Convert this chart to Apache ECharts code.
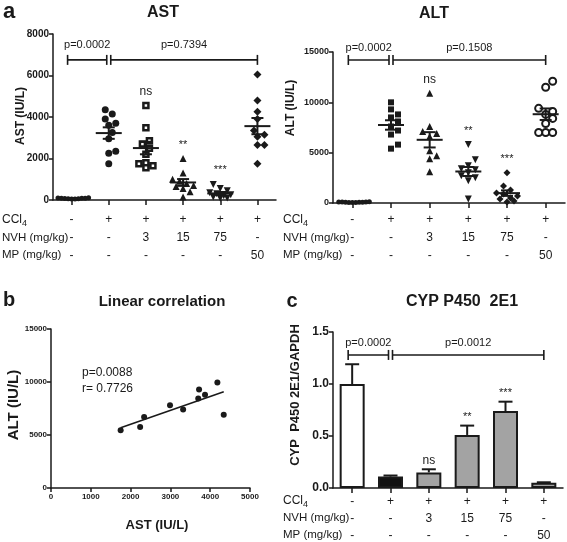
<!DOCTYPE html>
<html><head><meta charset="utf-8">
<script src="https://cdn.jsdelivr.net/npm/echarts@6/dist/echarts.min.js"></script>
<style>html,body{margin:0;padding:0;background:#fff}#c{width:567px;height:542px}</style>
</head><body><div id="c"></div><script>
// ---------------- data ----------------
const groups = ['Control', 'CCl4', 'CCl4+NVH3', 'CCl4+NVH15', 'CCl4+NVH75', 'CCl4+MP50'];
const rowCCl4 = ['-', '+', '+', '+', '+', '+'];
const rowNVH = ['-', '-', '3', '15', '75', '-'];
const rowMP = ['-', '-', '-', '-', '-', '50'];

const astControl = [50, 80, 60, 100, 90, 70, 110, 60, 80, 50];
const astCCl4 = [4350, 4150, 3900, 3700, 3600, 3250, 2950, 2350, 2250, 1750];
const astNVH3 = [4550, 3480, 2850, 2700, 2500, 2200, 1800, 1750, 1650, 1550];
const astNVH15 = [2000, 1300, 1000, 900, 800, 700, 650, 550, 400, 150];
const astNVH75 = [750, 550, 450, 350, 300, 250, 200, 150, 100, 80];
const astMP = [6050, 4800, 4250, 3900, 3350, 3150, 3050, 2650, 2650, 1750];

const altControl = [50, 80, 100, 60, 120, 90, 70, 40, 110, 80];
const altCCl4 = [10000, 9300, 8800, 8500, 8100, 7600, 7200, 6800, 5800, 5400];
const altNVH3 = [10900, 7600, 7100, 6900, 6600, 5200, 4700, 4400, 3100];
const altNVH15 = [5800, 4300, 3700, 3400, 3300, 3000, 2700, 2500, 2200, 400];
const altNVH75 = [3000, 1700, 1300, 1000, 900, 700, 500, 400, 200, 100];
const altMP = [12100, 11500, 9400, 9100, 8800, 8400, 7900, 7000, 7000, 7000];

const corrAST = [1750, 2240, 2340, 2990, 3320, 3700, 3720, 3870, 4180, 4340];
const corrALT = [5450, 5750, 6700, 7800, 7400, 8450, 9300, 8800, 9950, 6900];

const cypMean = [1.00, 0.11, 0.15, 0.51, 0.74, 0.05];
const cypSEM = [0.19, 0.01, 0.03, 0.09, 0.09, 0.005];

const astTests = [[0, 1, 'p=0.0002'], [1, 5, 'p=0.7394']];
const altTests = [[0, 1, 'p=0.0002'], [1, 5, 'p=0.1508']];
const cypTests = [[0, 1, 'p=0.0002'], [1, 5, 'p=0.0012']];
const astMarks = [[2, 'ns'], [3, '**'], [4, '***']];
const altMarks = [[2, 'ns'], [3, '**'], [4, '***']];
const cypMarks = [[2, 'ns'], [3, '**'], [4, '***']];

const corrStats = ['p=0.0088', 'r= 0.7726'];

// ---------------- styling / layout ----------------
const FONT = '"Liberation Sans", Arial, Helvetica, sans-serif';
const INK = '#1a1a1a';
const astSets = [astControl, astCCl4, astNVH3, astNVH15, astNVH75, astMP];
const altSets = [altControl, altCCl4, altNVH3, altNVH15, altNVH75, altMP];
const astShapes = [
  {symbol: 'circle', size: 5}, {symbol: 'circle', size: 7}, {symbol: 'rect', size: 5, hollow: true, bw: 2.5},
  {symbol: 'triangle', size: 7}, {symbol: 'triangle', size: 7, rot: 180}, {symbol: 'diamond', size: 8}];
const altShapes = [
  {symbol: 'circle', size: 5}, {symbol: 'rect', size: 6}, {symbol: 'triangle', size: 7},
  {symbol: 'triangle', size: 7, rot: 180}, {symbol: 'diamond', size: 7}, {symbol: 'circle', size: 7, hollow: true, bw: 2}];
const cypFill = ['#ffffff', '#111111', '#a3a3a3', '#a3a3a3', '#a3a3a3', '#a3a3a3'];

const grids = [
  {left: 53, top: 34, width: 223, height: 166},
  {left: 333, top: 52, width: 232, height: 151},
  {left: 51, top: 329, width: 199, height: 159},
  {left: 333, top: 332, width: 230, height: 156}
];
const yMax = [8000, 15000, 15000, 1.5];

function mean(a) { return a.reduce((s, v) => s + v, 0) / a.length; }
function sem(a) { const m = mean(a); const v = a.reduce((s, x) => s + (x - m) * (x - m), 0) / (a.length - 1); return Math.sqrt(v / a.length); }

// deterministic beeswarm offsets (px), clamped to a max half-width
function swarm(vals, pxPerUnit, d, step, maxOff) {
  const order = vals.map((v, i) => i).sort((a, b) => vals[a] - vals[b]);
  const placed = []; const off = [];
  const cands = [0];
  for (let k = 1; k * step <= maxOff + 1e-9; k++) { cands.push(k * step, -k * step); }
  order.forEach(i => {
    const y = vals[i] * pxPerUnit;
    let best = 0, bestD = -1;
    for (const c of cands) {
      const md = placed.reduce((m, p) => Math.min(m, Math.hypot(p.x - c, p.y - y)), Infinity);
      if (md >= d) { best = c; bestD = Infinity; break; }
      if (md > bestD) { bestD = md; best = c; }
    }
    placed.push({x: best, y}); off[i] = best;
  });
  return off;
}

const lineSt = {color: INK, width: 1.5};
function catAxis(gi, lineH, margin) {
  return {
    gridIndex: gi, type: 'category', data: groups, boundaryGap: true,
    axisLine: {show: true, lineStyle: lineSt},
    axisTick: {show: true, alignWithLabel: true, length: 5, lineStyle: lineSt},
    axisLabel: {interval: 0, color: INK, fontSize: 12, fontFamily: FONT, lineHeight: lineH, margin: margin,
      formatter: (v, i) => [rowCCl4[i], rowNVH[i], rowMP[i]].join('\n')},
    splitLine: {show: false}
  };
}
function valAxis(gi, max, interval, fs, fmt, isX) {
  return {
    gridIndex: gi, type: 'value', min: 0, max: max, interval: interval,
    axisLine: {show: true, onZero: false, lineStyle: lineSt},
    axisTick: {show: true, length: 4, lineStyle: lineSt},
    axisLabel: {color: INK, fontSize: fs, fontWeight: 'bold', fontFamily: FONT, margin: isX ? 5 : 4,
      formatter: fmt || (v => String(v))},
    splitLine: {show: false}
  };
}

function pointSeries(gi, sets, shapes) {
  const pxPer = grids[gi].height / yMax[gi];
  return sets.map((vals, g) => {
    const off = g === 0 ? swarm(vals, pxPer, 3.4, 3.4, 18) : swarm(vals, pxPer, 7, 3.5, 12);
    const sh = shapes[g];
    return {
      type: 'scatter', xAxisIndex: gi, yAxisIndex: gi, z: 2,
      symbol: sh.symbol, symbolSize: sh.size, symbolRotate: sh.rot || 0,
      itemStyle: sh.hollow ? {color: '#fff', borderColor: INK, borderWidth: sh.bw, opacity: 1} : {color: INK, opacity: 1},
      emphasis: {disabled: true},
      data: vals.map((v, i) => ({value: [g, v], symbolOffset: [off[i], 0]}))
    };
  });
}

function meanSemSeries(gi, sets) {
  return {
    type: 'custom', xAxisIndex: gi, yAxisIndex: gi, z: 5,
    data: sets.map((s, i) => [i, mean(s), sem(s)]),
    renderItem: (params, api) => {
      const i = api.value(0), m = api.value(1), e = api.value(2);
      const c = api.coord([i, m]), t = api.coord([i, m + e]), b = api.coord([i, m - e]);
      const st = {stroke: INK, lineWidth: 2};
      return {type: 'group', children: [
        {type: 'line', shape: {x1: c[0] - 13, y1: c[1], x2: c[0] + 13, y2: c[1]}, style: st},
        {type: 'line', shape: {x1: c[0], y1: t[1], x2: c[0], y2: b[1]}, style: st},
        {type: 'line', shape: {x1: c[0] - 6, y1: t[1], x2: c[0] + 6, y2: t[1]}, style: st},
        {type: 'line', shape: {x1: c[0] - 6, y1: b[1], x2: c[0] + 6, y2: b[1]}, style: st}
      ]};
    }
  };
}

function textEl(x, y, text, font, align) {
  return {type: 'text', x: x, y: y, style: {text: text, fill: INK, font: font,
    align: align || 'center', verticalAlign: 'middle', textAlign: align || 'center', textVerticalAlign: 'middle'}};
}

function bracketSeries(gi, tests, frac, textGap) {
  const yv = frac * yMax[gi];
  return {
    type: 'custom', xAxisIndex: gi, yAxisIndex: gi, z: 6,
    data: tests.map(t => [t[0], yv, t[1]]),
    renderItem: (params, api) => {
      const t = tests[params.dataIndex];
      const a = api.coord([t[0], yv]), b = api.coord([t[1], yv]);
      const first = params.dataIndex === 0;
      const x1 = a[0] + (first ? -4 : 2), x2 = b[0] + (first ? -2 : 0), y = a[1];
      const st = {stroke: INK, lineWidth: 1.6};
      return {type: 'group', children: [
        {type: 'line', shape: {x1: x1, y1: y, x2: x2, y2: y}, style: st},
        {type: 'line', shape: {x1: x1, y1: y - 5, x2: x1, y2: y + 5}, style: st},
        {type: 'line', shape: {x1: x2, y1: y - 5, x2: x2, y2: y + 5}, style: st},
        textEl((x1 + x2) / 2, y - textGap, t[2], '11px ' + FONT)
      ]};
    }
  };
}

function markSeries(gi, marks, tops, pad) {
  return {
    type: 'custom', xAxisIndex: gi, yAxisIndex: gi, z: 6,
    data: marks.map(m => [m[0], tops[m[0]]]),
    renderItem: (params, api) => {
      const lab = marks[params.dataIndex][1];
      const p = api.coord([api.value(0), api.value(1)]);
      return textEl(p[0], p[1] - pad, lab, (lab === 'ns' ? '12px ' : '11px ') + FONT);
    }
  };
}

function errSeries(gi) {
  return {
    type: 'custom', xAxisIndex: gi, yAxisIndex: gi, z: 4,
    data: cypMean.map((m, i) => [i, m, cypSEM[i]]),
    renderItem: (params, api) => {
      const i = api.value(0), m = api.value(1), e = api.value(2);
      const c = api.coord([i, m]), t = api.coord([i, m + e]);
      const st = {stroke: INK, lineWidth: 2};
      return {type: 'group', children: [
        {type: 'line', shape: {x1: c[0], y1: c[1], x2: c[0], y2: t[1]}, style: st},
        {type: 'line', shape: {x1: c[0] - 7, y1: t[1], x2: c[0] + 7, y2: t[1]}, style: st}
      ]};
    }
  };
}

// regression line from the correlation data
const mx = mean(corrAST), my = mean(corrALT);
let sxy = 0, sxx = 0;
corrAST.forEach((x, i) => { sxy += (x - mx) * (corrALT[i] - my); sxx += (x - mx) * (x - mx); });
const slope = sxy / sxx, icpt = my - slope * mx;
const xLo = Math.min(...corrAST), xHi = Math.max(...corrAST);

function rowHeaders(x, ys) {
  return [
    textEl(x, ys[0], 'CCl', '12px ' + FONT, 'left'),
    textEl(x + 20, ys[0] + 4, '4', '9px ' + FONT, 'left'),
    textEl(x, ys[1], 'NVH (mg/kg)', '11.5px ' + FONT, 'left'),
    textEl(x, ys[2], 'MP (mg/kg)', '11.5px ' + FONT, 'left')
  ];
}
function rotText(x, y, text, font) {
  const e = textEl(x, y, text, font); e.rotation = Math.PI / 2; return e;
}

const chart = echarts.init(document.getElementById('c'), null, {renderer: 'canvas'});
const oneDec = v => v.toFixed(1);
chart.setOption({
  animation: false,
  backgroundColor: '#fff',
  textStyle: {fontFamily: FONT},
  grid: grids.map(g => Object.assign({containLabel: false, outerBoundsMode: 'none'}, g)),
  xAxis: [catAxis(0, 18, 11), catAxis(1, 18, 8),
    valAxis(2, 5000, 1000, 8, null, true), catAxis(3, 17, 5)],
  yAxis: [valAxis(0, 8000, 2000, 10), valAxis(1, 15000, 5000, 9),
    valAxis(2, 15000, 5000, 8), valAxis(3, 1.5, 0.5, 12, oneDec)],
  series: [].concat(
    pointSeries(0, astSets, astShapes),
    [meanSemSeries(0, astSets), bracketSeries(0, astTests, 0.844, 15),
     markSeries(0, astMarks, astSets.map(s => Math.max(...s)), 14)],
    pointSeries(1, altSets, altShapes),
    [meanSemSeries(1, altSets), bracketSeries(1, altTests, 0.947, 12),
     markSeries(1, altMarks, altSets.map(s => Math.max(...s)), 14)],
    [{type: 'scatter', xAxisIndex: 2, yAxisIndex: 2, symbol: 'circle', symbolSize: 6,
      itemStyle: {color: INK, opacity: 1}, data: corrAST.map((x, i) => [x, corrALT[i]])},
     {type: 'line', xAxisIndex: 2, yAxisIndex: 2, showSymbol: false, symbol: 'none',
      lineStyle: {color: INK, width: 1.6},
      data: [[xLo, icpt + slope * xLo], [xHi, icpt + slope * xHi]]}],
    [{type: 'bar', xAxisIndex: 3, yAxisIndex: 3, barWidth: 25, z: 2,
      data: cypMean.map((v, i) => ({value: v, itemStyle: {color: cypFill[i], borderColor: INK, borderWidth: 2}}))},
     errSeries(3), bracketSeries(3, cypTests, 0.853, 12),
     markSeries(3, cypMarks, cypMean.map((m, i) => m + cypSEM[i]), 9)]
  ),
  graphic: [].concat(
    [textEl(9, 12, 'a', 'bold 22px ' + FONT),
     textEl(9, 300, 'b', 'bold 20px ' + FONT),
     textEl(292, 301, 'c', 'bold 20px ' + FONT),
     textEl(163, 13, 'AST', 'bold 16px ' + FONT),
     textEl(434, 14, 'ALT', 'bold 16px ' + FONT),
     textEl(162, 302, 'Linear correlation', 'bold 15px ' + FONT),
     textEl(462, 302, 'CYP P450  2E1', 'bold 16px ' + FONT),
     rotText(21, 116, 'AST (IU/L)', 'bold 12px ' + FONT),
     rotText(291, 108, 'ALT (IU/L)', 'bold 12px ' + FONT),
     rotText(14, 405, 'ALT (IU/L)', 'bold 15px ' + FONT),
     rotText(295, 395, 'CYP  P450 2E1/GAPDH', 'bold 13px ' + FONT),
     textEl(157, 525, 'AST (IU/L)', 'bold 13px ' + FONT),
     textEl(82, 373, corrStats[0], '12px ' + FONT, 'left'),
     textEl(82, 389, corrStats[1], '12px ' + FONT, 'left')],
    rowHeaders(2, [220, 238, 255]),
    rowHeaders(283, [220, 238, 255]),
    rowHeaders(283, [501, 518, 535])
  )
});
</script></body></html>
